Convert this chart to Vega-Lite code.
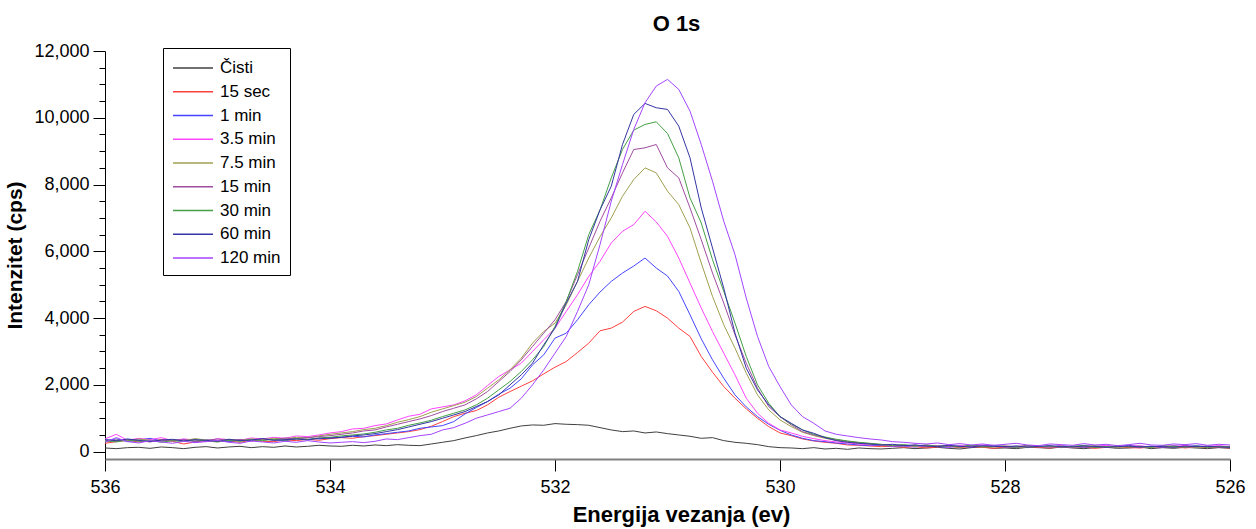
{
"$schema":"https://vega.github.io/schema/vega-lite/v6.json",
"width":1125,"height":408,"autosize":"none",
"padding":{"left":105,"top":51,"right":26,"bottom":70},
"background":"white",
"title":{"text":"O 1s","fontSize":22,"fontWeight":"bold","font":"Liberation Sans","color":"#000","anchor":"middle","frame":"group","dx":9,"offset":-11,"baseline":"alphabetic"},
"datasets":{"d":[
{"s":"Čisti","e":536,"i":110},{"s":"Čisti","e":535.9,"i":90},{"s":"Čisti","e":535.8,"i":120},{"s":"Čisti","e":535.7,"i":130},{"s":"Čisti","e":535.6,"i":100},{"s":"Čisti","e":535.5,"i":140},{"s":"Čisti","e":535.4,"i":120},{"s":"Čisti","e":535.3,"i":90},{"s":"Čisti","e":535.2,"i":130},{"s":"Čisti","e":535.1,"i":150},{"s":"Čisti","e":535,"i":110},{"s":"Čisti","e":534.9,"i":140},{"s":"Čisti","e":534.8,"i":160},{"s":"Čisti","e":534.7,"i":120},{"s":"Čisti","e":534.6,"i":150},{"s":"Čisti","e":534.5,"i":130},{"s":"Čisti","e":534.4,"i":170},{"s":"Čisti","e":534.3,"i":140},{"s":"Čisti","e":534.2,"i":160},{"s":"Čisti","e":534.1,"i":190},{"s":"Čisti","e":534,"i":170},
{"s":"Čisti","e":533.9,"i":160},{"s":"Čisti","e":533.8,"i":190},{"s":"Čisti","e":533.7,"i":170},{"s":"Čisti","e":533.6,"i":200},{"s":"Čisti","e":533.5,"i":180},{"s":"Čisti","e":533.4,"i":210},{"s":"Čisti","e":533.3,"i":190},{"s":"Čisti","e":533.2,"i":180},{"s":"Čisti","e":533.1,"i":230},{"s":"Čisti","e":533,"i":280},
{"s":"Čisti","e":532.9,"i":330},{"s":"Čisti","e":532.8,"i":410},{"s":"Čisti","e":532.7,"i":480},{"s":"Čisti","e":532.6,"i":560},{"s":"Čisti","e":532.5,"i":620},{"s":"Čisti","e":532.4,"i":700},{"s":"Čisti","e":532.3,"i":770},{"s":"Čisti","e":532.2,"i":800},{"s":"Čisti","e":532.1,"i":790},{"s":"Čisti","e":532,"i":840},
{"s":"Čisti","e":531.9,"i":820},{"s":"Čisti","e":531.8,"i":810},{"s":"Čisti","e":531.7,"i":790},{"s":"Čisti","e":531.6,"i":720},{"s":"Čisti","e":531.5,"i":650},{"s":"Čisti","e":531.4,"i":600},{"s":"Čisti","e":531.3,"i":620},{"s":"Čisti","e":531.2,"i":560},{"s":"Čisti","e":531.1,"i":590},{"s":"Čisti","e":531,"i":540},
{"s":"Čisti","e":530.9,"i":500},{"s":"Čisti","e":530.8,"i":460},{"s":"Čisti","e":530.7,"i":400},{"s":"Čisti","e":530.6,"i":420},{"s":"Čisti","e":530.5,"i":330},{"s":"Čisti","e":530.4,"i":280},{"s":"Čisti","e":530.3,"i":250},{"s":"Čisti","e":530.2,"i":210},{"s":"Čisti","e":530.1,"i":150},{"s":"Čisti","e":530,"i":120},
{"s":"Čisti","e":529.9,"i":110},{"s":"Čisti","e":529.8,"i":90},{"s":"Čisti","e":529.7,"i":120},{"s":"Čisti","e":529.6,"i":80},{"s":"Čisti","e":529.5,"i":100},{"s":"Čisti","e":529.4,"i":70},{"s":"Čisti","e":529.3,"i":110},{"s":"Čisti","e":529.2,"i":90},{"s":"Čisti","e":529.1,"i":80},{"s":"Čisti","e":529,"i":100},
{"s":"Čisti","e":528.9,"i":120},{"s":"Čisti","e":528.8,"i":90},{"s":"Čisti","e":528.7,"i":110},{"s":"Čisti","e":528.6,"i":130},{"s":"Čisti","e":528.5,"i":100},{"s":"Čisti","e":528.4,"i":80},{"s":"Čisti","e":528.3,"i":120},{"s":"Čisti","e":528.2,"i":140},{"s":"Čisti","e":528.1,"i":100},{"s":"Čisti","e":528,"i":110},
{"s":"Čisti","e":527.9,"i":90},{"s":"Čisti","e":527.8,"i":130},{"s":"Čisti","e":527.7,"i":120},{"s":"Čisti","e":527.6,"i":100},{"s":"Čisti","e":527.5,"i":140},{"s":"Čisti","e":527.4,"i":110},{"s":"Čisti","e":527.3,"i":90},{"s":"Čisti","e":527.2,"i":120},{"s":"Čisti","e":527.1,"i":130},{"s":"Čisti","e":527,"i":100},
{"s":"Čisti","e":526.9,"i":110},{"s":"Čisti","e":526.8,"i":140},{"s":"Čisti","e":526.7,"i":90},{"s":"Čisti","e":526.6,"i":120},{"s":"Čisti","e":526.5,"i":100},{"s":"Čisti","e":526.4,"i":130},{"s":"Čisti","e":526.3,"i":110},{"s":"Čisti","e":526.2,"i":90},{"s":"Čisti","e":526.1,"i":120},{"s":"Čisti","e":526,"i":100},

{"s":"15 sec","e":536,"i":250},{"s":"15 sec","e":535.9,"i":300},{"s":"15 sec","e":535.8,"i":340},{"s":"15 sec","e":535.7,"i":290},{"s":"15 sec","e":535.6,"i":320},{"s":"15 sec","e":535.5,"i":360},{"s":"15 sec","e":535.4,"i":310},{"s":"15 sec","e":535.3,"i":230},{"s":"15 sec","e":535.2,"i":290},{"s":"15 sec","e":535.1,"i":330},{"s":"15 sec","e":535,"i":300},{"s":"15 sec","e":534.9,"i":320},{"s":"15 sec","e":534.8,"i":280},{"s":"15 sec","e":534.7,"i":340},{"s":"15 sec","e":534.6,"i":310},{"s":"15 sec","e":534.5,"i":300},{"s":"15 sec","e":534.4,"i":350},{"s":"15 sec","e":534.3,"i":330},{"s":"15 sec","e":534.2,"i":370},{"s":"15 sec","e":534.1,"i":340},{"s":"15 sec","e":534,"i":390},
{"s":"15 sec","e":533.9,"i":420},{"s":"15 sec","e":533.8,"i":400},{"s":"15 sec","e":533.7,"i":450},{"s":"15 sec","e":533.6,"i":480},{"s":"15 sec","e":533.5,"i":520},{"s":"15 sec","e":533.4,"i":560},{"s":"15 sec","e":533.3,"i":600},{"s":"15 sec","e":533.2,"i":660},{"s":"15 sec","e":533.1,"i":760},{"s":"15 sec","e":533,"i":900},
{"s":"15 sec","e":532.9,"i":1050},{"s":"15 sec","e":532.8,"i":1150},{"s":"15 sec","e":532.7,"i":1230},{"s":"15 sec","e":532.6,"i":1400},{"s":"15 sec","e":532.5,"i":1630},{"s":"15 sec","e":532.4,"i":1800},{"s":"15 sec","e":532.3,"i":1960},{"s":"15 sec","e":532.2,"i":2120},{"s":"15 sec","e":532.1,"i":2330},{"s":"15 sec","e":532,"i":2530},
{"s":"15 sec","e":531.9,"i":2700},{"s":"15 sec","e":531.8,"i":2970},{"s":"15 sec","e":531.7,"i":3250},{"s":"15 sec","e":531.6,"i":3620},{"s":"15 sec","e":531.5,"i":3700},{"s":"15 sec","e":531.4,"i":3880},{"s":"15 sec","e":531.3,"i":4200},{"s":"15 sec","e":531.2,"i":4350},{"s":"15 sec","e":531.1,"i":4220},{"s":"15 sec","e":531,"i":4000},
{"s":"15 sec","e":530.9,"i":3700},{"s":"15 sec","e":530.8,"i":3450},{"s":"15 sec","e":530.7,"i":2850},{"s":"15 sec","e":530.6,"i":2380},{"s":"15 sec","e":530.5,"i":1950},{"s":"15 sec","e":530.4,"i":1600},{"s":"15 sec","e":530.3,"i":1280},{"s":"15 sec","e":530.2,"i":1000},{"s":"15 sec","e":530.1,"i":750},{"s":"15 sec","e":530,"i":560},
{"s":"15 sec","e":529.9,"i":480},{"s":"15 sec","e":529.8,"i":380},{"s":"15 sec","e":529.7,"i":320},{"s":"15 sec","e":529.6,"i":280},{"s":"15 sec","e":529.5,"i":250},{"s":"15 sec","e":529.4,"i":200},{"s":"15 sec","e":529.3,"i":190},{"s":"15 sec","e":529.2,"i":170},{"s":"15 sec","e":529.1,"i":150},{"s":"15 sec","e":529,"i":160},
{"s":"15 sec","e":528.9,"i":130},{"s":"15 sec","e":528.8,"i":150},{"s":"15 sec","e":528.7,"i":110},{"s":"15 sec","e":528.6,"i":140},{"s":"15 sec","e":528.5,"i":160},{"s":"15 sec","e":528.4,"i":120},{"s":"15 sec","e":528.3,"i":150},{"s":"15 sec","e":528.2,"i":130},{"s":"15 sec","e":528.1,"i":100},{"s":"15 sec","e":528,"i":140},
{"s":"15 sec","e":527.9,"i":120},{"s":"15 sec","e":527.8,"i":150},{"s":"15 sec","e":527.7,"i":130},{"s":"15 sec","e":527.6,"i":110},{"s":"15 sec","e":527.5,"i":150},{"s":"15 sec","e":527.4,"i":120},{"s":"15 sec","e":527.3,"i":140},{"s":"15 sec","e":527.2,"i":100},{"s":"15 sec","e":527.1,"i":130},{"s":"15 sec","e":527,"i":150},
{"s":"15 sec","e":526.9,"i":120},{"s":"15 sec","e":526.8,"i":110},{"s":"15 sec","e":526.7,"i":140},{"s":"15 sec","e":526.6,"i":130},{"s":"15 sec","e":526.5,"i":150},{"s":"15 sec","e":526.4,"i":110},{"s":"15 sec","e":526.3,"i":140},{"s":"15 sec","e":526.2,"i":120},{"s":"15 sec","e":526.1,"i":130},{"s":"15 sec","e":526,"i":110},

{"s":"1 min","e":536,"i":330},{"s":"1 min","e":535.9,"i":380},{"s":"1 min","e":535.8,"i":300},{"s":"1 min","e":535.7,"i":350},{"s":"1 min","e":535.6,"i":400},{"s":"1 min","e":535.5,"i":320},{"s":"1 min","e":535.4,"i":340},{"s":"1 min","e":535.3,"i":370},{"s":"1 min","e":535.2,"i":310},{"s":"1 min","e":535.1,"i":350},{"s":"1 min","e":535,"i":330},{"s":"1 min","e":534.9,"i":300},{"s":"1 min","e":534.8,"i":360},{"s":"1 min","e":534.7,"i":340},{"s":"1 min","e":534.6,"i":380},{"s":"1 min","e":534.5,"i":350},{"s":"1 min","e":534.4,"i":330},{"s":"1 min","e":534.3,"i":390},{"s":"1 min","e":534.2,"i":420},{"s":"1 min","e":534.1,"i":380},{"s":"1 min","e":534,"i":420},
{"s":"1 min","e":533.9,"i":430},{"s":"1 min","e":533.8,"i":460},{"s":"1 min","e":533.7,"i":440},{"s":"1 min","e":533.6,"i":500},{"s":"1 min","e":533.5,"i":540},{"s":"1 min","e":533.4,"i":580},{"s":"1 min","e":533.3,"i":620},{"s":"1 min","e":533.2,"i":700},{"s":"1 min","e":533.1,"i":740},{"s":"1 min","e":533,"i":780},
{"s":"1 min","e":532.9,"i":900},{"s":"1 min","e":532.8,"i":1130},{"s":"1 min","e":532.7,"i":1320},{"s":"1 min","e":532.6,"i":1500},{"s":"1 min","e":532.5,"i":1720},{"s":"1 min","e":532.4,"i":1900},{"s":"1 min","e":532.3,"i":2180},{"s":"1 min","e":532.2,"i":2600},{"s":"1 min","e":532.1,"i":2900},{"s":"1 min","e":532,"i":3400},
{"s":"1 min","e":531.9,"i":3550},{"s":"1 min","e":531.8,"i":3950},{"s":"1 min","e":531.7,"i":4400},{"s":"1 min","e":531.6,"i":4780},{"s":"1 min","e":531.5,"i":5100},{"s":"1 min","e":531.4,"i":5350},{"s":"1 min","e":531.3,"i":5560},{"s":"1 min","e":531.2,"i":5800},{"s":"1 min","e":531.1,"i":5500},{"s":"1 min","e":531,"i":5260},
{"s":"1 min","e":530.9,"i":4800},{"s":"1 min","e":530.8,"i":4100},{"s":"1 min","e":530.7,"i":3380},{"s":"1 min","e":530.6,"i":2750},{"s":"1 min","e":530.5,"i":2200},{"s":"1 min","e":530.4,"i":1700},{"s":"1 min","e":530.3,"i":1340},{"s":"1 min","e":530.2,"i":1050},{"s":"1 min","e":530.1,"i":820},{"s":"1 min","e":530,"i":640},
{"s":"1 min","e":529.9,"i":500},{"s":"1 min","e":529.8,"i":400},{"s":"1 min","e":529.7,"i":330},{"s":"1 min","e":529.6,"i":300},{"s":"1 min","e":529.5,"i":260},{"s":"1 min","e":529.4,"i":230},{"s":"1 min","e":529.3,"i":200},{"s":"1 min","e":529.2,"i":180},{"s":"1 min","e":529.1,"i":190},{"s":"1 min","e":529,"i":160},
{"s":"1 min","e":528.9,"i":170},{"s":"1 min","e":528.8,"i":140},{"s":"1 min","e":528.7,"i":180},{"s":"1 min","e":528.6,"i":150},{"s":"1 min","e":528.5,"i":130},{"s":"1 min","e":528.4,"i":170},{"s":"1 min","e":528.3,"i":140},{"s":"1 min","e":528.2,"i":160},{"s":"1 min","e":528.1,"i":190},{"s":"1 min","e":528,"i":150},
{"s":"1 min","e":527.9,"i":130},{"s":"1 min","e":527.8,"i":170},{"s":"1 min","e":527.7,"i":160},{"s":"1 min","e":527.6,"i":140},{"s":"1 min","e":527.5,"i":180},{"s":"1 min","e":527.4,"i":150},{"s":"1 min","e":527.3,"i":130},{"s":"1 min","e":527.2,"i":160},{"s":"1 min","e":527.1,"i":170},{"s":"1 min","e":527,"i":140},
{"s":"1 min","e":526.9,"i":190},{"s":"1 min","e":526.8,"i":150},{"s":"1 min","e":526.7,"i":160},{"s":"1 min","e":526.6,"i":130},{"s":"1 min","e":526.5,"i":170},{"s":"1 min","e":526.4,"i":150},{"s":"1 min","e":526.3,"i":180},{"s":"1 min","e":526.2,"i":140},{"s":"1 min","e":526.1,"i":160},{"s":"1 min","e":526,"i":150},

{"s":"3.5 min","e":536,"i":380},{"s":"3.5 min","e":535.9,"i":520},{"s":"3.5 min","e":535.8,"i":340},{"s":"3.5 min","e":535.7,"i":400},{"s":"3.5 min","e":535.6,"i":360},{"s":"3.5 min","e":535.5,"i":420},{"s":"3.5 min","e":535.4,"i":330},{"s":"3.5 min","e":535.3,"i":380},{"s":"3.5 min","e":535.2,"i":350},{"s":"3.5 min","e":535.1,"i":300},{"s":"3.5 min","e":535,"i":390},{"s":"3.5 min","e":534.9,"i":360},{"s":"3.5 min","e":534.8,"i":340},{"s":"3.5 min","e":534.7,"i":410},{"s":"3.5 min","e":534.6,"i":380},{"s":"3.5 min","e":534.5,"i":430},{"s":"3.5 min","e":534.4,"i":400},{"s":"3.5 min","e":534.3,"i":470},{"s":"3.5 min","e":534.2,"i":450},{"s":"3.5 min","e":534.1,"i":500},{"s":"3.5 min","e":534,"i":560},
{"s":"3.5 min","e":533.9,"i":600},{"s":"3.5 min","e":533.8,"i":680},{"s":"3.5 min","e":533.7,"i":700},{"s":"3.5 min","e":533.6,"i":780},{"s":"3.5 min","e":533.5,"i":830},{"s":"3.5 min","e":533.4,"i":950},{"s":"3.5 min","e":533.3,"i":1060},{"s":"3.5 min","e":533.2,"i":1120},{"s":"3.5 min","e":533.1,"i":1280},{"s":"3.5 min","e":533,"i":1340},
{"s":"3.5 min","e":532.9,"i":1400},{"s":"3.5 min","e":532.8,"i":1520},{"s":"3.5 min","e":532.7,"i":1700},{"s":"3.5 min","e":532.6,"i":1980},{"s":"3.5 min","e":532.5,"i":2250},{"s":"3.5 min","e":532.4,"i":2450},{"s":"3.5 min","e":532.3,"i":2650},{"s":"3.5 min","e":532.2,"i":3000},{"s":"3.5 min","e":532.1,"i":3350},{"s":"3.5 min","e":532,"i":3700},
{"s":"3.5 min","e":531.9,"i":4200},{"s":"3.5 min","e":531.8,"i":4700},{"s":"3.5 min","e":531.7,"i":5250},{"s":"3.5 min","e":531.6,"i":5700},{"s":"3.5 min","e":531.5,"i":6250},{"s":"3.5 min","e":531.4,"i":6600},{"s":"3.5 min","e":531.3,"i":6800},{"s":"3.5 min","e":531.2,"i":7200},{"s":"3.5 min","e":531.1,"i":6880},{"s":"3.5 min","e":531,"i":6450},
{"s":"3.5 min","e":530.9,"i":5800},{"s":"3.5 min","e":530.8,"i":5050},{"s":"3.5 min","e":530.7,"i":4300},{"s":"3.5 min","e":530.6,"i":3600},{"s":"3.5 min","e":530.5,"i":2950},{"s":"3.5 min","e":530.4,"i":2300},{"s":"3.5 min","e":530.3,"i":1600},{"s":"3.5 min","e":530.2,"i":1150},{"s":"3.5 min","e":530.1,"i":850},{"s":"3.5 min","e":530,"i":650},
{"s":"3.5 min","e":529.9,"i":560},{"s":"3.5 min","e":529.8,"i":460},{"s":"3.5 min","e":529.7,"i":390},{"s":"3.5 min","e":529.6,"i":330},{"s":"3.5 min","e":529.5,"i":290},{"s":"3.5 min","e":529.4,"i":260},{"s":"3.5 min","e":529.3,"i":230},{"s":"3.5 min","e":529.2,"i":200},{"s":"3.5 min","e":529.1,"i":210},{"s":"3.5 min","e":529,"i":170},
{"s":"3.5 min","e":528.9,"i":190},{"s":"3.5 min","e":528.8,"i":150},{"s":"3.5 min","e":528.7,"i":200},{"s":"3.5 min","e":528.6,"i":170},{"s":"3.5 min","e":528.5,"i":140},{"s":"3.5 min","e":528.4,"i":180},{"s":"3.5 min","e":528.3,"i":160},{"s":"3.5 min","e":528.2,"i":200},{"s":"3.5 min","e":528.1,"i":150},{"s":"3.5 min","e":528,"i":170},
{"s":"3.5 min","e":527.9,"i":130},{"s":"3.5 min","e":527.8,"i":190},{"s":"3.5 min","e":527.7,"i":160},{"s":"3.5 min","e":527.6,"i":140},{"s":"3.5 min","e":527.5,"i":180},{"s":"3.5 min","e":527.4,"i":120},{"s":"3.5 min","e":527.3,"i":170},{"s":"3.5 min","e":527.2,"i":150},{"s":"3.5 min","e":527.1,"i":190},{"s":"3.5 min","e":527,"i":140},
{"s":"3.5 min","e":526.9,"i":160},{"s":"3.5 min","e":526.8,"i":180},{"s":"3.5 min","e":526.7,"i":130},{"s":"3.5 min","e":526.6,"i":170},{"s":"3.5 min","e":526.5,"i":150},{"s":"3.5 min","e":526.4,"i":190},{"s":"3.5 min","e":526.3,"i":140},{"s":"3.5 min","e":526.2,"i":160},{"s":"3.5 min","e":526.1,"i":180},{"s":"3.5 min","e":526,"i":150},

{"s":"7.5 min","e":536,"i":300},{"s":"7.5 min","e":535.9,"i":350},{"s":"7.5 min","e":535.8,"i":320},{"s":"7.5 min","e":535.7,"i":380},{"s":"7.5 min","e":535.6,"i":340},{"s":"7.5 min","e":535.5,"i":310},{"s":"7.5 min","e":535.4,"i":360},{"s":"7.5 min","e":535.3,"i":330},{"s":"7.5 min","e":535.2,"i":390},{"s":"7.5 min","e":535.1,"i":350},{"s":"7.5 min","e":535,"i":320},{"s":"7.5 min","e":534.9,"i":370},{"s":"7.5 min","e":534.8,"i":340},{"s":"7.5 min","e":534.7,"i":380},{"s":"7.5 min","e":534.6,"i":360},{"s":"7.5 min","e":534.5,"i":400},{"s":"7.5 min","e":534.4,"i":380},{"s":"7.5 min","e":534.3,"i":430},{"s":"7.5 min","e":534.2,"i":410},{"s":"7.5 min","e":534.1,"i":470},{"s":"7.5 min","e":534,"i":520},
{"s":"7.5 min","e":533.9,"i":560},{"s":"7.5 min","e":533.8,"i":600},{"s":"7.5 min","e":533.7,"i":660},{"s":"7.5 min","e":533.6,"i":700},{"s":"7.5 min","e":533.5,"i":780},{"s":"7.5 min","e":533.4,"i":880},{"s":"7.5 min","e":533.3,"i":960},{"s":"7.5 min","e":533.2,"i":1050},{"s":"7.5 min","e":533.1,"i":1180},{"s":"7.5 min","e":533,"i":1280},
{"s":"7.5 min","e":532.9,"i":1380},{"s":"7.5 min","e":532.8,"i":1480},{"s":"7.5 min","e":532.7,"i":1650},{"s":"7.5 min","e":532.6,"i":1900},{"s":"7.5 min","e":532.5,"i":2150},{"s":"7.5 min","e":532.4,"i":2450},{"s":"7.5 min","e":532.3,"i":2800},{"s":"7.5 min","e":532.2,"i":3250},{"s":"7.5 min","e":532.1,"i":3600},{"s":"7.5 min","e":532,"i":3850},
{"s":"7.5 min","e":531.9,"i":4400},{"s":"7.5 min","e":531.8,"i":5100},{"s":"7.5 min","e":531.7,"i":5800},{"s":"7.5 min","e":531.6,"i":6440},{"s":"7.5 min","e":531.5,"i":7000},{"s":"7.5 min","e":531.4,"i":7650},{"s":"7.5 min","e":531.3,"i":8150},{"s":"7.5 min","e":531.2,"i":8500},{"s":"7.5 min","e":531.1,"i":8350},{"s":"7.5 min","e":531,"i":7800},
{"s":"7.5 min","e":530.9,"i":7400},{"s":"7.5 min","e":530.8,"i":6700},{"s":"7.5 min","e":530.7,"i":5650},{"s":"7.5 min","e":530.6,"i":4650},{"s":"7.5 min","e":530.5,"i":3800},{"s":"7.5 min","e":530.4,"i":3100},{"s":"7.5 min","e":530.3,"i":2350},{"s":"7.5 min","e":530.2,"i":1700},{"s":"7.5 min","e":530.1,"i":1250},{"s":"7.5 min","e":530,"i":950},
{"s":"7.5 min","e":529.9,"i":750},{"s":"7.5 min","e":529.8,"i":580},{"s":"7.5 min","e":529.7,"i":480},{"s":"7.5 min","e":529.6,"i":400},{"s":"7.5 min","e":529.5,"i":340},{"s":"7.5 min","e":529.4,"i":300},{"s":"7.5 min","e":529.3,"i":260},{"s":"7.5 min","e":529.2,"i":220},{"s":"7.5 min","e":529.1,"i":200},{"s":"7.5 min","e":529,"i":180},
{"s":"7.5 min","e":528.9,"i":200},{"s":"7.5 min","e":528.8,"i":160},{"s":"7.5 min","e":528.7,"i":190},{"s":"7.5 min","e":528.6,"i":150},{"s":"7.5 min","e":528.5,"i":170},{"s":"7.5 min","e":528.4,"i":130},{"s":"7.5 min","e":528.3,"i":180},{"s":"7.5 min","e":528.2,"i":150},{"s":"7.5 min","e":528.1,"i":140},{"s":"7.5 min","e":528,"i":170},
{"s":"7.5 min","e":527.9,"i":150},{"s":"7.5 min","e":527.8,"i":120},{"s":"7.5 min","e":527.7,"i":160},{"s":"7.5 min","e":527.6,"i":140},{"s":"7.5 min","e":527.5,"i":170},{"s":"7.5 min","e":527.4,"i":130},{"s":"7.5 min","e":527.3,"i":150},{"s":"7.5 min","e":527.2,"i":180},{"s":"7.5 min","e":527.1,"i":140},{"s":"7.5 min","e":527,"i":120},
{"s":"7.5 min","e":526.9,"i":160},{"s":"7.5 min","e":526.8,"i":150},{"s":"7.5 min","e":526.7,"i":130},{"s":"7.5 min","e":526.6,"i":170},{"s":"7.5 min","e":526.5,"i":140},{"s":"7.5 min","e":526.4,"i":160},{"s":"7.5 min","e":526.3,"i":120},{"s":"7.5 min","e":526.2,"i":150},{"s":"7.5 min","e":526.1,"i":140},{"s":"7.5 min","e":526,"i":130},

{"s":"15 min","e":536,"i":340},{"s":"15 min","e":535.9,"i":310},{"s":"15 min","e":535.8,"i":370},{"s":"15 min","e":535.7,"i":330},{"s":"15 min","e":535.6,"i":290},{"s":"15 min","e":535.5,"i":350},{"s":"15 min","e":535.4,"i":320},{"s":"15 min","e":535.3,"i":360},{"s":"15 min","e":535.2,"i":300},{"s":"15 min","e":535.1,"i":340},{"s":"15 min","e":535,"i":380},{"s":"15 min","e":534.9,"i":330},{"s":"15 min","e":534.8,"i":360},{"s":"15 min","e":534.7,"i":310},{"s":"15 min","e":534.6,"i":390},{"s":"15 min","e":534.5,"i":350},{"s":"15 min","e":534.4,"i":410},{"s":"15 min","e":534.3,"i":380},{"s":"15 min","e":534.2,"i":420},{"s":"15 min","e":534.1,"i":450},{"s":"15 min","e":534,"i":480},
{"s":"15 min","e":533.9,"i":520},{"s":"15 min","e":533.8,"i":560},{"s":"15 min","e":533.7,"i":620},{"s":"15 min","e":533.6,"i":650},{"s":"15 min","e":533.5,"i":740},{"s":"15 min","e":533.4,"i":820},{"s":"15 min","e":533.3,"i":900},{"s":"15 min","e":533.2,"i":980},{"s":"15 min","e":533.1,"i":1080},{"s":"15 min","e":533,"i":1200},
{"s":"15 min","e":532.9,"i":1300},{"s":"15 min","e":532.8,"i":1400},{"s":"15 min","e":532.7,"i":1580},{"s":"15 min","e":532.6,"i":1800},{"s":"15 min","e":532.5,"i":2100},{"s":"15 min","e":532.4,"i":2400},{"s":"15 min","e":532.3,"i":2750},{"s":"15 min","e":532.2,"i":3150},{"s":"15 min","e":532.1,"i":3550},{"s":"15 min","e":532,"i":3950},
{"s":"15 min","e":531.9,"i":4500},{"s":"15 min","e":531.8,"i":5300},{"s":"15 min","e":531.7,"i":6100},{"s":"15 min","e":531.6,"i":6900},{"s":"15 min","e":531.5,"i":7600},{"s":"15 min","e":531.4,"i":8350},{"s":"15 min","e":531.3,"i":9050},{"s":"15 min","e":531.2,"i":9100},{"s":"15 min","e":531.1,"i":9200},{"s":"15 min","e":531,"i":8500},
{"s":"15 min","e":530.9,"i":8200},{"s":"15 min","e":530.8,"i":7300},{"s":"15 min","e":530.7,"i":6350},{"s":"15 min","e":530.6,"i":5350},{"s":"15 min","e":530.5,"i":4450},{"s":"15 min","e":530.4,"i":3500},{"s":"15 min","e":530.3,"i":2650},{"s":"15 min","e":530.2,"i":1900},{"s":"15 min","e":530.1,"i":1350},{"s":"15 min","e":530,"i":1050},
{"s":"15 min","e":529.9,"i":800},{"s":"15 min","e":529.8,"i":600},{"s":"15 min","e":529.7,"i":500},{"s":"15 min","e":529.6,"i":420},{"s":"15 min","e":529.5,"i":360},{"s":"15 min","e":529.4,"i":310},{"s":"15 min","e":529.3,"i":270},{"s":"15 min","e":529.2,"i":240},{"s":"15 min","e":529.1,"i":210},{"s":"15 min","e":529,"i":190},
{"s":"15 min","e":528.9,"i":170},{"s":"15 min","e":528.8,"i":200},{"s":"15 min","e":528.7,"i":150},{"s":"15 min","e":528.6,"i":180},{"s":"15 min","e":528.5,"i":160},{"s":"15 min","e":528.4,"i":140},{"s":"15 min","e":528.3,"i":190},{"s":"15 min","e":528.2,"i":150},{"s":"15 min","e":528.1,"i":170},{"s":"15 min","e":528,"i":130},
{"s":"15 min","e":527.9,"i":160},{"s":"15 min","e":527.8,"i":180},{"s":"15 min","e":527.7,"i":140},{"s":"15 min","e":527.6,"i":150},{"s":"15 min","e":527.5,"i":120},{"s":"15 min","e":527.4,"i":170},{"s":"15 min","e":527.3,"i":140},{"s":"15 min","e":527.2,"i":160},{"s":"15 min","e":527.1,"i":130},{"s":"15 min","e":527,"i":170},
{"s":"15 min","e":526.9,"i":150},{"s":"15 min","e":526.8,"i":120},{"s":"15 min","e":526.7,"i":160},{"s":"15 min","e":526.6,"i":140},{"s":"15 min","e":526.5,"i":180},{"s":"15 min","e":526.4,"i":130},{"s":"15 min","e":526.3,"i":150},{"s":"15 min","e":526.2,"i":170},{"s":"15 min","e":526.1,"i":140},{"s":"15 min","e":526,"i":160},

{"s":"30 min","e":536,"i":320},{"s":"30 min","e":535.9,"i":290},{"s":"30 min","e":535.8,"i":350},{"s":"30 min","e":535.7,"i":310},{"s":"30 min","e":535.6,"i":340},{"s":"30 min","e":535.5,"i":280},{"s":"30 min","e":535.4,"i":330},{"s":"30 min","e":535.3,"i":300},{"s":"30 min","e":535.2,"i":350},{"s":"30 min","e":535.1,"i":320},{"s":"30 min","e":535,"i":290},{"s":"30 min","e":534.9,"i":340},{"s":"30 min","e":534.8,"i":310},{"s":"30 min","e":534.7,"i":360},{"s":"30 min","e":534.6,"i":330},{"s":"30 min","e":534.5,"i":370},{"s":"30 min","e":534.4,"i":340},{"s":"30 min","e":534.3,"i":390},{"s":"30 min","e":534.2,"i":360},{"s":"30 min","e":534.1,"i":410},{"s":"30 min","e":534,"i":430},
{"s":"30 min","e":533.9,"i":470},{"s":"30 min","e":533.8,"i":500},{"s":"30 min","e":533.7,"i":530},{"s":"30 min","e":533.6,"i":580},{"s":"30 min","e":533.5,"i":650},{"s":"30 min","e":533.4,"i":700},{"s":"30 min","e":533.3,"i":790},{"s":"30 min","e":533.2,"i":860},{"s":"30 min","e":533.1,"i":940},{"s":"30 min","e":533,"i":1050},
{"s":"30 min","e":532.9,"i":1150},{"s":"30 min","e":532.8,"i":1250},{"s":"30 min","e":532.7,"i":1400},{"s":"30 min","e":532.6,"i":1600},{"s":"30 min","e":532.5,"i":1850},{"s":"30 min","e":532.4,"i":2100},{"s":"30 min","e":532.3,"i":2400},{"s":"30 min","e":532.2,"i":2750},{"s":"30 min","e":532.1,"i":3150},{"s":"30 min","e":532,"i":3750},
{"s":"30 min","e":531.9,"i":4500},{"s":"30 min","e":531.8,"i":5400},{"s":"30 min","e":531.7,"i":6500},{"s":"30 min","e":531.6,"i":7240},{"s":"30 min","e":531.5,"i":8200},{"s":"30 min","e":531.4,"i":9050},{"s":"30 min","e":531.3,"i":9630},{"s":"30 min","e":531.2,"i":9800},{"s":"30 min","e":531.1,"i":9880},{"s":"30 min","e":531,"i":9530},
{"s":"30 min","e":530.9,"i":8800},{"s":"30 min","e":530.8,"i":7600},{"s":"30 min","e":530.7,"i":6850},{"s":"30 min","e":530.6,"i":5750},{"s":"30 min","e":530.5,"i":4800},{"s":"30 min","e":530.4,"i":3850},{"s":"30 min","e":530.3,"i":2850},{"s":"30 min","e":530.2,"i":2000},{"s":"30 min","e":530.1,"i":1450},{"s":"30 min","e":530,"i":1050},
{"s":"30 min","e":529.9,"i":830},{"s":"30 min","e":529.8,"i":650},{"s":"30 min","e":529.7,"i":520},{"s":"30 min","e":529.6,"i":440},{"s":"30 min","e":529.5,"i":370},{"s":"30 min","e":529.4,"i":320},{"s":"30 min","e":529.3,"i":280},{"s":"30 min","e":529.2,"i":250},{"s":"30 min","e":529.1,"i":220},{"s":"30 min","e":529,"i":190},
{"s":"30 min","e":528.9,"i":210},{"s":"30 min","e":528.8,"i":170},{"s":"30 min","e":528.7,"i":200},{"s":"30 min","e":528.6,"i":160},{"s":"30 min","e":528.5,"i":180},{"s":"30 min","e":528.4,"i":150},{"s":"30 min","e":528.3,"i":190},{"s":"30 min","e":528.2,"i":140},{"s":"30 min","e":528.1,"i":170},{"s":"30 min","e":528,"i":160},
{"s":"30 min","e":527.9,"i":130},{"s":"30 min","e":527.8,"i":180},{"s":"30 min","e":527.7,"i":150},{"s":"30 min","e":527.6,"i":170},{"s":"30 min","e":527.5,"i":140},{"s":"30 min","e":527.4,"i":160},{"s":"30 min","e":527.3,"i":190},{"s":"30 min","e":527.2,"i":130},{"s":"30 min","e":527.1,"i":150},{"s":"30 min","e":527,"i":170},
{"s":"30 min","e":526.9,"i":140},{"s":"30 min","e":526.8,"i":160},{"s":"30 min","e":526.7,"i":130},{"s":"30 min","e":526.6,"i":180},{"s":"30 min","e":526.5,"i":150},{"s":"30 min","e":526.4,"i":140},{"s":"30 min","e":526.3,"i":170},{"s":"30 min","e":526.2,"i":130},{"s":"30 min","e":526.1,"i":160},{"s":"30 min","e":526,"i":140},

{"s":"60 min","e":536,"i":360},{"s":"60 min","e":535.9,"i":330},{"s":"60 min","e":535.8,"i":380},{"s":"60 min","e":535.7,"i":340},{"s":"60 min","e":535.6,"i":300},{"s":"60 min","e":535.5,"i":350},{"s":"60 min","e":535.4,"i":370},{"s":"60 min","e":535.3,"i":320},{"s":"60 min","e":535.2,"i":360},{"s":"60 min","e":535.1,"i":340},{"s":"60 min","e":535,"i":310},{"s":"60 min","e":534.9,"i":370},{"s":"60 min","e":534.8,"i":330},{"s":"60 min","e":534.7,"i":350},{"s":"60 min","e":534.6,"i":390},{"s":"60 min","e":534.5,"i":340},{"s":"60 min","e":534.4,"i":360},{"s":"60 min","e":534.3,"i":380},{"s":"60 min","e":534.2,"i":350},{"s":"60 min","e":534.1,"i":400},{"s":"60 min","e":534,"i":400},
{"s":"60 min","e":533.9,"i":430},{"s":"60 min","e":533.8,"i":470},{"s":"60 min","e":533.7,"i":500},{"s":"60 min","e":533.6,"i":540},{"s":"60 min","e":533.5,"i":600},{"s":"60 min","e":533.4,"i":660},{"s":"60 min","e":533.3,"i":740},{"s":"60 min","e":533.2,"i":820},{"s":"60 min","e":533.1,"i":900},{"s":"60 min","e":533,"i":1000},
{"s":"60 min","e":532.9,"i":1100},{"s":"60 min","e":532.8,"i":1200},{"s":"60 min","e":532.7,"i":1350},{"s":"60 min","e":532.6,"i":1500},{"s":"60 min","e":532.5,"i":1700},{"s":"60 min","e":532.4,"i":2000},{"s":"60 min","e":532.3,"i":2300},{"s":"60 min","e":532.2,"i":2650},{"s":"60 min","e":532.1,"i":3200},{"s":"60 min","e":532,"i":3700},
{"s":"60 min","e":531.9,"i":4450},{"s":"60 min","e":531.8,"i":5100},{"s":"60 min","e":531.7,"i":6350},{"s":"60 min","e":531.6,"i":7240},{"s":"60 min","e":531.5,"i":7950},{"s":"60 min","e":531.4,"i":9200},{"s":"60 min","e":531.3,"i":10100},{"s":"60 min","e":531.2,"i":10430},{"s":"60 min","e":531.1,"i":10300},{"s":"60 min","e":531,"i":10250},
{"s":"60 min","e":530.9,"i":9750},{"s":"60 min","e":530.8,"i":8800},{"s":"60 min","e":530.7,"i":7300},{"s":"60 min","e":530.6,"i":6100},{"s":"60 min","e":530.5,"i":4900},{"s":"60 min","e":530.4,"i":3550},{"s":"60 min","e":530.3,"i":2500},{"s":"60 min","e":530.2,"i":1850},{"s":"60 min","e":530.1,"i":1400},{"s":"60 min","e":530,"i":1050},
{"s":"60 min","e":529.9,"i":850},{"s":"60 min","e":529.8,"i":650},{"s":"60 min","e":529.7,"i":550},{"s":"60 min","e":529.6,"i":420},{"s":"60 min","e":529.5,"i":330},{"s":"60 min","e":529.4,"i":280},{"s":"60 min","e":529.3,"i":250},{"s":"60 min","e":529.2,"i":230},{"s":"60 min","e":529.1,"i":200},{"s":"60 min","e":529,"i":220},
{"s":"60 min","e":528.9,"i":180},{"s":"60 min","e":528.8,"i":200},{"s":"60 min","e":528.7,"i":170},{"s":"60 min","e":528.6,"i":150},{"s":"60 min","e":528.5,"i":190},{"s":"60 min","e":528.4,"i":160},{"s":"60 min","e":528.3,"i":140},{"s":"60 min","e":528.2,"i":180},{"s":"60 min","e":528.1,"i":160},{"s":"60 min","e":528,"i":150},
{"s":"60 min","e":527.9,"i":170},{"s":"60 min","e":527.8,"i":130},{"s":"60 min","e":527.7,"i":160},{"s":"60 min","e":527.6,"i":180},{"s":"60 min","e":527.5,"i":150},{"s":"60 min","e":527.4,"i":140},{"s":"60 min","e":527.3,"i":170},{"s":"60 min","e":527.2,"i":160},{"s":"60 min","e":527.1,"i":130},{"s":"60 min","e":527,"i":150},
{"s":"60 min","e":526.9,"i":170},{"s":"60 min","e":526.8,"i":140},{"s":"60 min","e":526.7,"i":160},{"s":"60 min","e":526.6,"i":150},{"s":"60 min","e":526.5,"i":130},{"s":"60 min","e":526.4,"i":170},{"s":"60 min","e":526.3,"i":150},{"s":"60 min","e":526.2,"i":160},{"s":"60 min","e":526.1,"i":140},{"s":"60 min","e":526,"i":130},

{"s":"120 min","e":536,"i":280},{"s":"120 min","e":535.9,"i":420},{"s":"120 min","e":535.8,"i":300},{"s":"120 min","e":535.7,"i":260},{"s":"120 min","e":535.6,"i":330},{"s":"120 min","e":535.5,"i":290},{"s":"120 min","e":535.4,"i":250},{"s":"120 min","e":535.3,"i":310},{"s":"120 min","e":535.2,"i":270},{"s":"120 min","e":535.1,"i":300},{"s":"120 min","e":535,"i":340},{"s":"120 min","e":534.9,"i":280},{"s":"120 min","e":534.8,"i":250},{"s":"120 min","e":534.7,"i":320},{"s":"120 min","e":534.6,"i":290},{"s":"120 min","e":534.5,"i":260},{"s":"120 min","e":534.4,"i":310},{"s":"120 min","e":534.3,"i":280},{"s":"120 min","e":534.2,"i":330},{"s":"120 min","e":534.1,"i":290},{"s":"120 min","e":534,"i":260},
{"s":"120 min","e":533.9,"i":280},{"s":"120 min","e":533.8,"i":300},{"s":"120 min","e":533.7,"i":270},{"s":"120 min","e":533.6,"i":310},{"s":"120 min","e":533.5,"i":380},{"s":"120 min","e":533.4,"i":360},{"s":"120 min","e":533.3,"i":420},{"s":"120 min","e":533.2,"i":480},{"s":"120 min","e":533.1,"i":520},{"s":"120 min","e":533,"i":650},
{"s":"120 min","e":532.9,"i":720},{"s":"120 min","e":532.8,"i":850},{"s":"120 min","e":532.7,"i":1000},{"s":"120 min","e":532.6,"i":1100},{"s":"120 min","e":532.5,"i":1200},{"s":"120 min","e":532.4,"i":1300},{"s":"120 min","e":532.3,"i":1600},{"s":"120 min","e":532.2,"i":2000},{"s":"120 min","e":532.1,"i":2450},{"s":"120 min","e":532,"i":2950},
{"s":"120 min","e":531.9,"i":3450},{"s":"120 min","e":531.8,"i":4200},{"s":"120 min","e":531.7,"i":5000},{"s":"120 min","e":531.6,"i":6200},{"s":"120 min","e":531.5,"i":7500},{"s":"120 min","e":531.4,"i":8600},{"s":"120 min","e":531.3,"i":9650},{"s":"120 min","e":531.2,"i":10450},{"s":"120 min","e":531.1,"i":10950},{"s":"120 min","e":531,"i":11150},
{"s":"120 min","e":530.9,"i":10850},{"s":"120 min","e":530.8,"i":10200},{"s":"120 min","e":530.7,"i":9200},{"s":"120 min","e":530.6,"i":8100},{"s":"120 min","e":530.5,"i":6900},{"s":"120 min","e":530.4,"i":5900},{"s":"120 min","e":530.3,"i":4600},{"s":"120 min","e":530.2,"i":3450},{"s":"120 min","e":530.1,"i":2550},{"s":"120 min","e":530,"i":1950},
{"s":"120 min","e":529.9,"i":1400},{"s":"120 min","e":529.8,"i":1050},{"s":"120 min","e":529.7,"i":850},{"s":"120 min","e":529.6,"i":620},{"s":"120 min","e":529.5,"i":520},{"s":"120 min","e":529.4,"i":470},{"s":"120 min","e":529.3,"i":420},{"s":"120 min","e":529.2,"i":380},{"s":"120 min","e":529.1,"i":350},{"s":"120 min","e":529,"i":300},
{"s":"120 min","e":528.9,"i":280},{"s":"120 min","e":528.8,"i":250},{"s":"120 min","e":528.7,"i":230},{"s":"120 min","e":528.6,"i":260},{"s":"120 min","e":528.5,"i":210},{"s":"120 min","e":528.4,"i":240},{"s":"120 min","e":528.3,"i":200},{"s":"120 min","e":528.2,"i":230},{"s":"120 min","e":528.1,"i":190},{"s":"120 min","e":528,"i":220},
{"s":"120 min","e":527.9,"i":250},{"s":"120 min","e":527.8,"i":200},{"s":"120 min","e":527.7,"i":180},{"s":"120 min","e":527.6,"i":230},{"s":"120 min","e":527.5,"i":210},{"s":"120 min","e":527.4,"i":190},{"s":"120 min","e":527.3,"i":240},{"s":"120 min","e":527.2,"i":200},{"s":"120 min","e":527.1,"i":220},{"s":"120 min","e":527,"i":180},
{"s":"120 min","e":526.9,"i":210},{"s":"120 min","e":526.8,"i":250},{"s":"120 min","e":526.7,"i":200},{"s":"120 min","e":526.6,"i":190},{"s":"120 min","e":526.5,"i":230},{"s":"120 min","e":526.4,"i":210},{"s":"120 min","e":526.3,"i":240},{"s":"120 min","e":526.2,"i":190},{"s":"120 min","e":526.1,"i":220},{"s":"120 min","e":526,"i":200}
]},
"data":{"name":"d"},
"mark":{"type":"line","strokeWidth":1,"clip":true},
"encoding":{
"x":{"field":"e","type":"quantitative","scale":{"domain":[526,536],"reverse":true,"nice":false,"zero":false},
 "axis":{"title":"Energija vezanja (ev)","titleX":576,"values":[526,528,530,532,534,536],"format":"d","tickSize":12,"tickColor":"#000","domainColor":"#808080","domainWidth":2,"labelFontSize":18,"labelFont":"Liberation Sans","labelColor":"#000","labelPadding":7,"labelFlush":false,"labelOverlap":false,"titleFontSize":22,"titleFontWeight":"bold","titleFont":"Liberation Sans","titleColor":"#000","titlePadding":8,"grid":false}},
"y":{"field":"i","type":"quantitative","scale":{"domain":[-220,12000],"nice":false,"zero":false},
 "axis":{"title":"Intenzitet (cps)","values":[0,500,1000,1500,2000,2500,3000,3500,4000,4500,5000,5500,6000,6500,7000,7500,8000,8500,9000,9500,10000,10500,11000,11500,12000],"labelExpr":"datum.value % 2000 === 0 ? format(datum.value, ',') : ''","tickSize":{"condition":{"test":"datum.value % 2000 === 0","value":12},"value":6},"tickColor":"#000","domainColor":"#000","labelFontSize":18,"labelFont":"Liberation Sans","labelColor":"#000","labelPadding":4,"labelOverlap":false,"labelFlush":false,"titleFontSize":21,"titleFontWeight":"bold","titleFont":"Liberation Sans","titleColor":"#000","titlePadding":8,"grid":false}},
"color":{"field":"s","type":"nominal",
 "scale":{"domain":["Čisti","15 sec","1 min","3.5 min","7.5 min","15 min","30 min","60 min","120 min"],
 "range":["#404040","#ff4040","#4545ff","#ff45ff","#a0a050","#a04da0","#45a045","#3535a5","#a445ff"]},
 "legend":{"title":null,"orient":"none","legendX":58,"legendY":-3,"symbolType":"M-1,0H3","symbolSize":400,"symbolStrokeWidth":1.5,"labelFontSize":17,"labelFont":"Liberation Sans","labelColor":"#000","labelOffset":26,"rowPadding":4.75,"padding":9,"strokeColor":"#000","fillColor":"#fff"}}
},
"config":{"view":{"stroke":null}}
}
